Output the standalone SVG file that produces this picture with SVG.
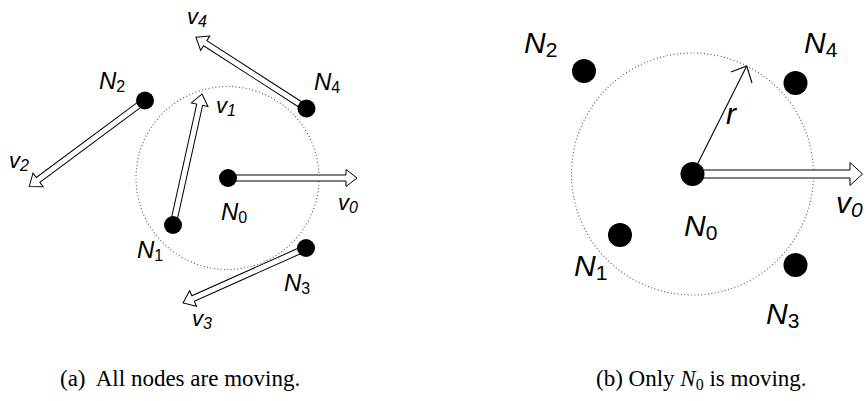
<svg xmlns="http://www.w3.org/2000/svg" width="866" height="401" viewBox="0 0 866 401">
<style>
.dot{fill:#000}
.vec{fill:#fff;stroke:#000;stroke-width:1}
.range{fill:none;stroke:#555;stroke-width:1.1;stroke-dasharray:1 2.4}
.thin{fill:none;stroke:#000;stroke-width:1.1}
.lbl{font-family:"Liberation Sans",Arial,sans-serif;font-style:italic;fill:#000}
.sub{font-style:normal}
.isub{font-style:italic}
.a{font-size:24px}
.av{font-size:22px}
.as{font-size:16px}
.b{font-size:30px}
.bs{font-size:21px}
.cap{font-family:"Liberation Serif","Times New Roman",serif;font-size:23px;fill:#000}
</style>
<rect width="866" height="401" fill="#fff"/>
<g id="panel-a">
  <circle class="range" cx="227.5" cy="178" r="91.5"/>
  <g id="a-connectors">
    <path class="vec" transform="translate(228,178)" d="M0,-3 H118 V-8.5 L129,0 L118,8.5 V3 H0 Z"/>
    <path class="vec" transform="translate(173,225) rotate(-77.5)" d="M0,-3 H123.2 V-8.5 L134.2,0 L123.2,8.5 V3 H0 Z"/>
    <path class="vec" transform="translate(145,100.5) rotate(143.4)" d="M0,-3 H133.2 V-8.5 L144.2,0 L133.2,8.5 V3 H0 Z"/>
    <path class="vec" transform="translate(306,248) rotate(155.9)" d="M0,-3 H123.7 V-8.5 L134.7,0 L123.7,8.5 V3 H0 Z"/>
    <path class="vec" transform="translate(306.5,108.5) rotate(-147.2)" d="M0,-3 H120.5 V-8.5 L131.5,0 L120.5,8.5 V3 H0 Z"/>
  </g>
  <g id="a-N0"><circle class="dot" cx="228" cy="178" r="9"/><text class="lbl a" x="221" y="220">N<tspan class="sub as" dy="3">0</tspan></text></g>
  <g id="a-N1"><circle class="dot" cx="173" cy="225" r="9"/><text class="lbl a" x="137" y="258">N<tspan class="sub as" dy="3">1</tspan></text></g>
  <g id="a-N2"><circle class="dot" cx="145" cy="100.5" r="9"/><text class="lbl a" x="99" y="89">N<tspan class="sub as" dy="3">2</tspan></text></g>
  <g id="a-N3"><circle class="dot" cx="306" cy="248" r="9"/><text class="lbl a" x="284" y="291">N<tspan class="sub as" dy="3">3</tspan></text></g>
  <g id="a-N4"><circle class="dot" cx="306.5" cy="108.5" r="9"/><text class="lbl a" x="314" y="90">N<tspan class="sub as" dy="3">4</tspan></text></g>
  <text class="lbl av" x="338" y="210">v<tspan class="isub as" dy="3">0</tspan></text>
  <text class="lbl av" x="216" y="113">v<tspan class="isub as" dy="3">1</tspan></text>
  <text class="lbl av" x="9" y="168">v<tspan class="isub as" dy="3">2</tspan></text>
  <text class="lbl av" x="192" y="326">v<tspan class="isub as" dy="3">3</tspan></text>
  <text class="lbl av" x="187" y="24">v<tspan class="isub as" dy="3">4</tspan></text>
</g>
<g id="panel-b">
  <circle class="range" cx="692.5" cy="174" r="121"/>
  <g id="b-connectors">
    <path class="vec" transform="translate(692.5,174)" d="M0,-4 H157.5 V-11.5 L170,0 L157.5,11.5 V4 H0 Z"/>
    <line class="thin" x1="692.5" y1="174" x2="746.7" y2="66"/>
    <polyline class="thin" points="731,72 746.7,66 752,83"/>
  </g>
  <g id="b-N0"><circle class="dot" cx="692.5" cy="174" r="12"/><text class="lbl b" x="684" y="236">N<tspan class="sub bs" dy="4">0</tspan></text></g>
  <g id="b-N1"><circle class="dot" cx="620" cy="235" r="12"/><text class="lbl b" x="574" y="276">N<tspan class="sub bs" dy="4">1</tspan></text></g>
  <g id="b-N2"><circle class="dot" cx="584" cy="71" r="12"/><text class="lbl b" x="524" y="53">N<tspan class="sub bs" dy="4">2</tspan></text></g>
  <g id="b-N3"><circle class="dot" cx="795.5" cy="265" r="12"/><text class="lbl b" x="766" y="324">N<tspan class="sub bs" dy="4">3</tspan></text></g>
  <g id="b-N4"><circle class="dot" cx="795.5" cy="83" r="12"/><text class="lbl b" x="804" y="53">N<tspan class="sub bs" dy="4">4</tspan></text></g>
  <text class="lbl b" x="726" y="124">r</text>
  <text class="lbl b" x="836" y="213">v<tspan class="isub bs" dy="4">0</tspan></text>
</g>
<text class="cap" x="60" y="386">(a)&#160; All nodes are moving.</text>
<text class="cap" x="596" y="386">(b) Only <tspan font-style="italic">N</tspan><tspan font-size="16" dy="4">0</tspan><tspan dy="-4"> is moving.</tspan></text>
</svg>
